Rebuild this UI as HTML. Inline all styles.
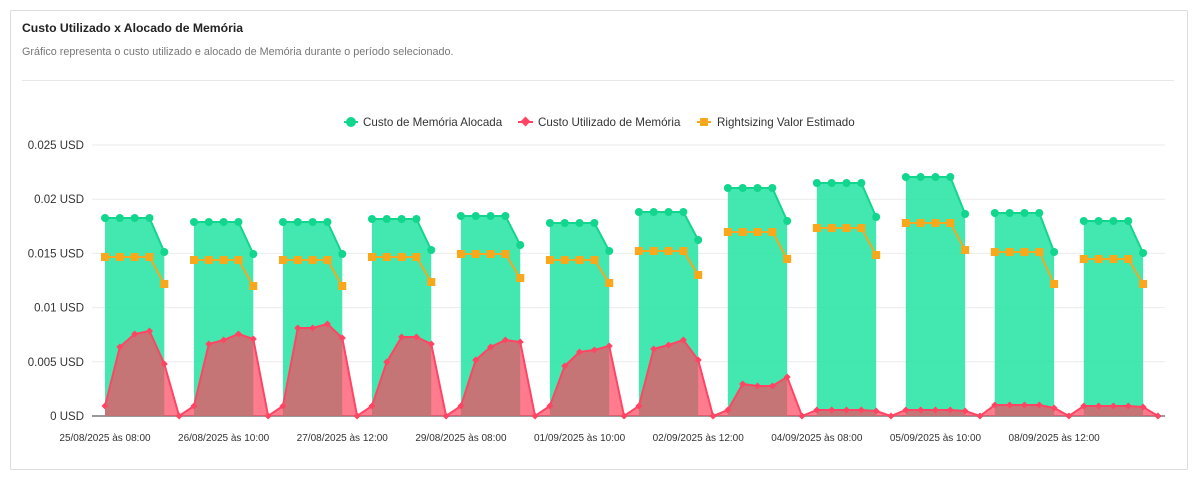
<!DOCTYPE html>
<html><head><meta charset="utf-8"><style>
body{margin:0;background:#fff;font-family:"Liberation Sans",sans-serif;width:1200px;height:479px;overflow:hidden}
.card{position:absolute;left:10px;top:10px;width:1176px;height:458px;border:1px solid #dcdcdc;border-radius:2px}
.t{position:absolute;left:22px;top:21px;font-size:12.2px;font-weight:bold;color:#222}
.s{position:absolute;left:22px;top:46px;font-size:10.8px;color:#777}
.hr{position:absolute;left:22px;top:80px;width:1152px;height:1px;background:#e8e8e8}
svg{position:absolute;left:0;top:0}
</style></head><body>
<div class="card"></div>
<div class="t">Custo Utilizado x Alocado de Memória</div>
<div class="s">Gráfico representa o custo utilizado e alocado de Memória durante o período selecionado.</div>
<div class="hr"></div>
<svg id="c" width="1200" height="479" xmlns="http://www.w3.org/2000/svg" font-family="Liberation Sans, sans-serif"></svg>
<script>
const G=[[218,252],[222,254],[222,254],[219,250],[216,245],[223,251],[212,240],[188,221],[183,217],[177,214],[213,252],[221,253]];
const O=[[257,284],[260,286],[260,286],[257,282],[254,278],[260,283],[251,275],[232,259],[228,255],[223,250],[252,284],[259,284]];
const R=[[406,347,334,331,364],[406,344,340,334,339],[406,328,328,324,338],[406,362,337,337,344],[406,360,347,340,342],[406,366,352,350,346],[406,349,345,340,360],[410,384,386,386,377],[410,410,410,410,411],[410,410,410,410,411],[405,405,405,405,408],[406,406,406,406,407]];
const x0=105,dx=14.83,base=416;
let s='';
for(let i=0;i<=5;i++){const y=base-i*54.2;
 s+=`<line x1="92" x2="1165" y1="${y}" y2="${y}" stroke="${i?'#ebebeb':'#999'}" stroke-width="${i?1:2}"/>`;
 const lab=['0 USD','0.005 USD','0.01 USD','0.015 USD','0.02 USD','0.025 USD'][i];
 s+=`<text x="84" y="${y+4}" font-size="11.5" fill="#333" text-anchor="end">${lab}</text>`;}
let gA='',gL='',gM='',oL='',oM='',rpts=[];
for(let g=0;g<12;g++){
 const xs=[];for(let k=0;k<6;k++)xs.push(x0+(g*6+k)*dx);
 const gy=[G[g][0],G[g][0],G[g][0],G[g][0],G[g][1]];
 const oy=[O[g][0],O[g][0],O[g][0],O[g][0],O[g][1]];
 let p=`${xs[0]},${base} `;for(let k=0;k<5;k++)p+=`${xs[k]},${gy[k]} `;p+=`${xs[4]},${base}`;
 gA+=`<polygon points="${p}" fill="#2ee5a6" fill-opacity="0.9"/>`;
 gL+=`<polyline points="${xs.slice(0,5).map((x,k)=>x+','+gy[k]).join(' ')}" fill="none" stroke="#12d68e" stroke-width="2"/>`;
 oL+=`<polyline points="${xs.slice(0,5).map((x,k)=>x+','+oy[k]).join(' ')}" fill="none" stroke="#f5a623" stroke-width="2"/>`;
 for(let k=0;k<5;k++){gM+=`<circle cx="${xs[k]}" cy="${gy[k]}" r="4" fill="#12d68e"/>`;oM+=`<rect x="${xs[k]-4}" y="${oy[k]-4}" width="8" height="8" fill="#f9a81c"/>`;}
 for(let k=0;k<5;k++)rpts.push([xs[k],R[g][k]]);rpts.push([xs[5],base]);
}
s+=gA;
let rp=`${rpts[0][0]},${base} `+rpts.map(p=>p.join(',')).join(' ')+` ${rpts[rpts.length-1][0]},${base}`;
s+=`<polygon points="${rp}" fill="#ff4560" fill-opacity="0.7"/>`;
s+=gL+gM;
s+=`<polyline points="${rpts.map(p=>p.join(',')).join(' ')}" fill="none" stroke="#ff4563" stroke-width="2"/>`;
rpts.forEach(p=>{s+=`<rect x="${p[0]-2.5}" y="${p[1]-2.5}" width="5" height="5" transform="rotate(45 ${p[0]} ${p[1]})" fill="#ff4563"/>`});
s+=oL+oM;
const labs=['25/08/2025 às 08:00','26/08/2025 às 10:00','27/08/2025 às 12:00','29/08/2025 às 08:00','01/09/2025 às 10:00','02/09/2025 às 12:00','04/09/2025 às 08:00','05/09/2025 às 10:00','08/09/2025 às 12:00'];
labs.forEach((l,i)=>{s+=`<text x="${x0+i*8*dx}" y="441" font-size="10" fill="#333" text-anchor="middle">${l}</text>`});
s+=`<circle cx="351" cy="122" r="5" fill="#12d68e"/><line x1="344" x2="358" y1="122" y2="122" stroke="#12d68e" stroke-width="2"/><text x="363" y="126" font-size="11.6" fill="#333">Custo de Memória Alocada</text>`;
s+=`<rect x="522" y="118" width="7" height="7" transform="rotate(45 525.5 121.5)" fill="#ff4563"/><line x1="518" x2="533" y1="122" y2="122" stroke="#ff4563" stroke-width="2"/><text x="538" y="126" font-size="11.6" fill="#333">Custo Utilizado de Memória</text>`;
s+=`<line x1="697" x2="711" y1="122" y2="122" stroke="#f5a623" stroke-width="2"/><rect x="700" y="118" width="8" height="8" fill="#f9a81c"/><text x="717" y="126" font-size="11.6" fill="#333">Rightsizing Valor Estimado</text>`;
document.getElementById('c').innerHTML=s;
</script>
</body></html>
